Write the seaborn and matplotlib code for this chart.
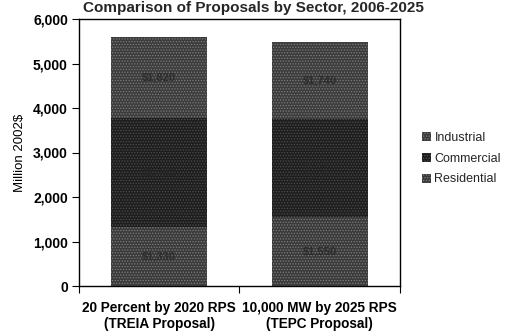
import matplotlib
matplotlib.use("Agg")
import matplotlib.pyplot as plt
import seaborn as sns
import pandas as pd
from matplotlib.patches import Patch
from matplotlib.ticker import FuncFormatter, FixedLocator

# Cost of each RPS proposal by customer sector (million 2002$)
proposals = ["20 Percent by 2020 RPS\n(TREIA Proposal)",
             "10,000 MW by 2025 RPS\n(TEPC Proposal)"]
residential = [1330, 1550]
commercial = [2450, 2200]
industrial = [1820, 1740]
sectors = ["Industrial", "Commercial", "Residential"]
y_ticks = [0, 1000, 2000, 3000, 4000, 5000, 6000]

df = pd.DataFrame({"proposal": proposals, "Residential": residential,
                   "Commercial": commercial, "Industrial": industrial})
df["res_top"] = df["Residential"]
df["com_top"] = df["Residential"] + df["Commercial"]
df["ind_top"] = df["com_top"] + df["Industrial"]

sns.set_theme(style="white")
plt.rcParams["font.family"] = ["Liberation Sans", "DejaVu Sans"]
plt.rcParams["hatch.linewidth"] = 0.6

fig = plt.figure(figsize=(5.06, 3.32), dpi=100)
ax = fig.add_axes([79 / 506, 1 - 286 / 332, 321 / 506, 267 / 332])

fills = {"Industrial": ("#3c3c3c", "#7c7c7c"),
         "Commercial": ("#1e1e1e", "#4e4e4e"),
         "Residential": ("#3a3a3a", "#7e7e7e")}

layers = [("ind_top", "Industrial"), ("com_top", "Commercial"), ("res_top", "Residential")]
for col, name in layers:
    face, dots = fills[name]
    sns.barplot(data=df, x="proposal", y=col, ax=ax, color=face, width=0.6,
                saturation=1, edgecolor=dots, linewidth=0, hatch="......")

# Faint value labels inside each segment
for i, row in df.iterrows():
    for base, top, val in [(0, row["res_top"], row["Residential"]),
                           (row["res_top"], row["com_top"], row["Commercial"]),
                           (row["com_top"], row["ind_top"], row["Industrial"])]:
        ax.text(i, (base + top) / 2, f"${val:,.0f}", ha="center", va="center",
                fontsize=8, fontweight="bold", color="#262626", alpha=0.8)

ax.set_xlim(-0.5, 1.5)
ax.set_ylim(0, 6000)
ax.yaxis.set_major_locator(FixedLocator(y_ticks))
ax.yaxis.set_major_formatter(FuncFormatter(lambda v, p: f"{v:,.0f}"))
ax.tick_params(axis="y", which="major", left=True, length=5, width=0.8,
               color="black", labelsize=10, pad=3)
ax.tick_params(axis="x", which="major", bottom=False, labelsize=9.8, pad=5)
ax.xaxis.set_minor_locator(FixedLocator([-0.5, 0.5, 1.5]))
ax.tick_params(axis="x", which="minor", bottom=True, length=5, width=0.8, color="black")
for lbl in ax.get_yticklabels():
    lbl.set_fontweight("bold")
    lbl.set_color("black")
for lbl in ax.get_xticklabels():
    lbl.set_fontweight("bold")
    lbl.set_color("black")
    lbl.set_linespacing(1.15)
ax.set_xlabel("")
ax.set_ylabel("Million 2002$", fontsize=9.5, color="black", labelpad=5)

for sp in ax.spines.values():
    sp.set_visible(True)
    sp.set_color("black")
    sp.set_linewidth(1.0)

handles = [Patch(facecolor=fills[s][0], edgecolor=fills[s][1], hatch="......",
                 linewidth=0) for s in sectors]
fig.legend(handles, sectors, loc="upper left", bbox_to_anchor=(417 / 506, 1 - 127 / 332),
           frameon=False, fontsize=9, handlelength=0.7, handleheight=0.7,
           handletextpad=0.3, labelspacing=0.7, borderaxespad=0)

fig.text(0.5, 1 - 1 / 332, "Comparison of Proposals by Sector, 2006-2025",
         ha="center", va="top", fontsize=11, fontweight="bold")

fig.savefig("out.png", dpi=100)
